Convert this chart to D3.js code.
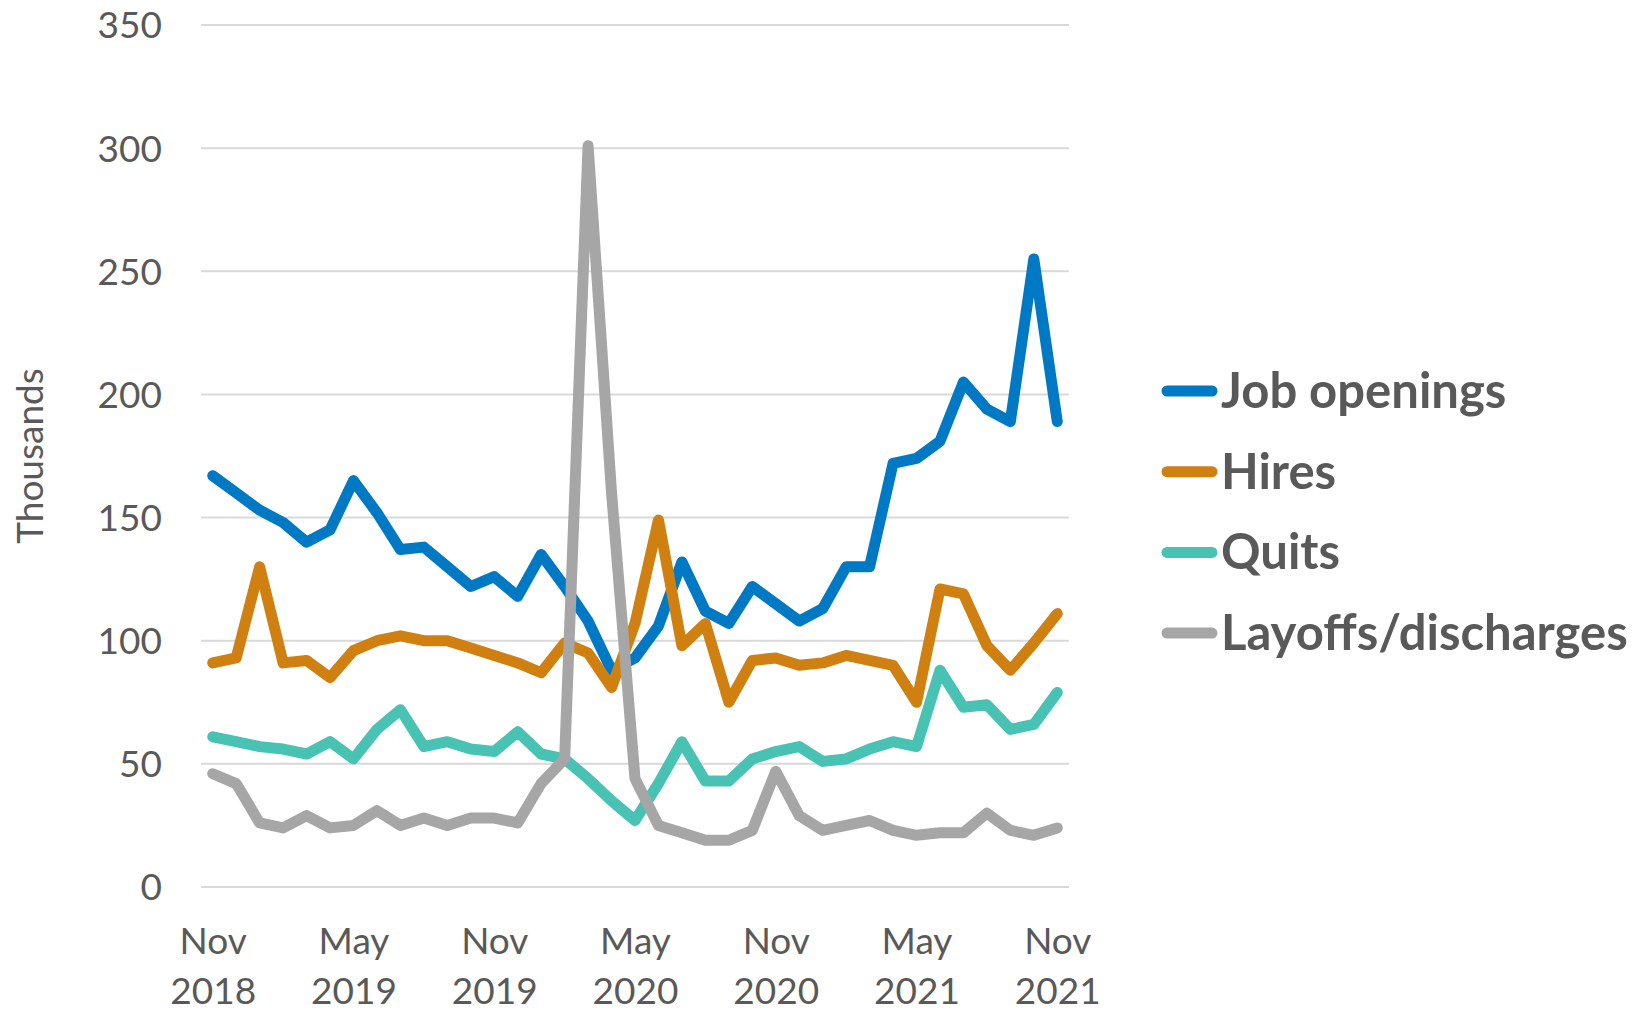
<!DOCTYPE html>
<html>
<head>
<meta charset="utf-8">
<script src="https://cdn.jsdelivr.net/npm/d3@7"></script>
<style>
  html, body { margin: 0; padding: 0; background: #ffffff; }
  svg { display: block; }
  text { font-family: Lato, "Open Sans", sans-serif; fill: #595959; }
</style>
</head>
<body>
<svg id="chart" width="1640" height="1011"></svg>
<script>
// Monthly JOLTS figures, thousands, Nov 2018 – Nov 2021
const months = [
  "Nov 2018","Dec 2018","Jan 2019","Feb 2019","Mar 2019","Apr 2019","May 2019","Jun 2019","Jul 2019","Aug 2019","Sep 2019","Oct 2019",
  "Nov 2019","Dec 2019","Jan 2020","Feb 2020","Mar 2020","Apr 2020","May 2020","Jun 2020","Jul 2020","Aug 2020","Sep 2020","Oct 2020",
  "Nov 2020","Dec 2020","Jan 2021","Feb 2021","Mar 2021","Apr 2021","May 2021","Jun 2021","Jul 2021","Aug 2021","Sep 2021","Oct 2021",
  "Nov 2021"
];
const jobOpenings = [167,160,153,148,140,145,165,152,137,138,130,122,126,118,135,122,108,88,93,106,132,112,107,122,115,108,113,130,130,172,174,181,205,194,189,255,189];
const hires       = [91,93,130,91,92,85,96,100,102,100,100,97,94,91,87,99,95,81,107,149,98,107,75,92,93,90,91,94,92,90,75,121,119,98,88,99,111];
const quits       = [61,59,57,56,54,59,52,64,72,57,59,56,55,63,54,52,44,35,27,42,59,43,43,52,55,57,51,52,56,59,57,88,73,74,64,66,79];
const layoffs     = [46,42,26,24,29,24,25,31,25,28,25,28,28,26,42,52,301,160,44,25,22,19,19,23,47,29,23,25,27,23,21,22,22,30,23,21,24];
const yTicks = [0,50,100,150,200,250,300,350];
const xTickMonths = ["Nov 2018","May 2019","Nov 2019","May 2020","Nov 2020","May 2021","Nov 2021"];

const series = [
  { name: "Job openings",       values: jobOpenings, color: "#0079C4" },
  { name: "Hires",              values: hires,       color: "#CF8010" },
  { name: "Quits",              values: quits,       color: "#48C3B3" },
  { name: "Layoffs/discharges", values: layoffs,     color: "#A6A6A6" }
];

const svg = d3.select("#chart");
const plot = { left: 201, right: 1069, top: 25, bottom: 887 };

const x = d3.scalePoint().domain(months).range([plot.left, plot.right]).padding(0.5);
const y = d3.scaleLinear().domain([0, 350]).range([plot.bottom, plot.top]);

// horizontal gridlines
svg.append("g")
  .selectAll("line")
  .data(yTicks)
  .join("line")
  .attr("x1", plot.left).attr("x2", plot.right)
  .attr("y1", d => y(d)).attr("y2", d => y(d))
  .attr("stroke", "#D9D9D9").attr("stroke-width", 2);

// y axis labels
const yAxis = d3.axisLeft(y).tickValues(yTicks).tickSize(0).tickPadding(0);
const gy = svg.append("g").attr("transform", `translate(162,0)`).call(yAxis);
gy.select(".domain").remove();
gy.selectAll("text")
  .style("font-family", "Lato, sans-serif")
  .style("font-size", "37px")
  .attr("fill", "#595959")
  .attr("dy", "0.35em");

// x axis labels: month on first line, year on second
const xAxis = d3.axisBottom(x).tickValues(xTickMonths).tickSize(0).tickFormat(() => "");
const gx = svg.append("g").attr("transform", `translate(0,${plot.bottom})`).call(xAxis);
gx.select(".domain").remove();
gx.selectAll(".tick text").remove();
gx.selectAll(".tick").each(function(d) {
  const [mon, yr] = d.split(" ");
  const t = d3.select(this).append("text")
    .attr("text-anchor", "middle")
    .style("font-size", "37px");
  t.append("tspan").attr("x", 0).attr("y", 67).text(mon);
  t.append("tspan").attr("x", 0).attr("y", 117).text(yr);
});

// axis title
svg.append("text")
  .attr("transform", "translate(43,456) rotate(-90)")
  .attr("text-anchor", "middle")
  .style("font-size", "37px")
  .text("Thousands");

// series lines
const line = d3.line()
  .x((d, i) => x(months[i]))
  .y(d => y(d));

svg.append("g")
  .selectAll("path")
  .data(series)
  .join("path")
  .attr("d", d => line(d.values))
  .attr("fill", "none")
  .attr("stroke", d => d.color)
  .attr("stroke-width", 11)
  .attr("stroke-linejoin", "round")
  .attr("stroke-linecap", "round");

// legend
const legend = svg.append("g").attr("transform", "translate(1167,391)");
const rows = legend.selectAll("g")
  .data(series)
  .join("g")
  .attr("transform", (d, i) => `translate(0,${i * 80.7})`);
rows.append("line")
  .attr("x1", 0).attr("x2", 45)
  .attr("y1", 0).attr("y2", 0)
  .attr("stroke", d => d.color)
  .attr("stroke-width", 11)
  .attr("stroke-linecap", "round");
rows.append("text")
  .attr("x", 54)
  .attr("y", 17)
  .style("font-size", "49px")
  .style("font-weight", "bold")
  .text(d => d.name);
</script>
</body>
</html>
